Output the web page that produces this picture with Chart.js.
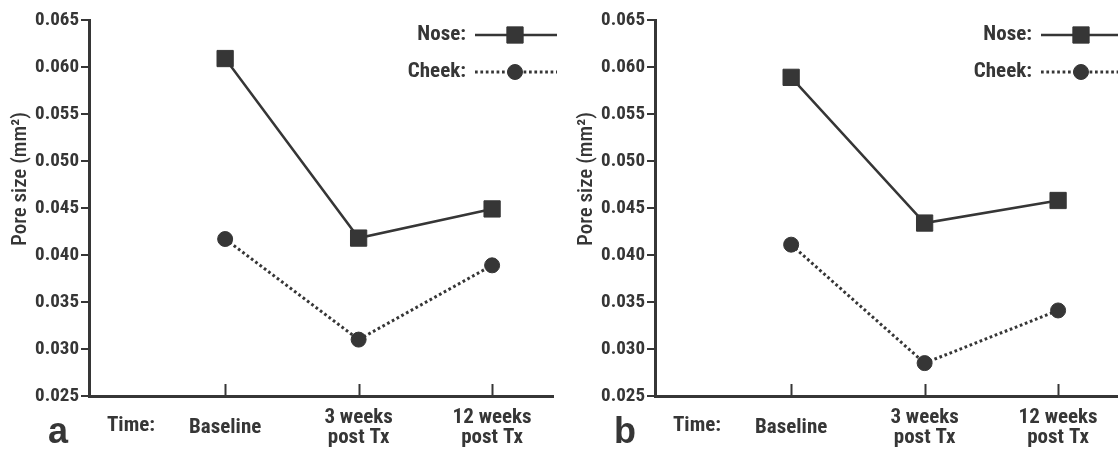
<!DOCTYPE html>
<html><head><meta charset="utf-8">
<script src="https://cdn.jsdelivr.net/npm/chart.js@4.4.1/dist/chart.umd.min.js"></script>
<style>
html,body{margin:0;padding:0;background:#fff;overflow:hidden;width:1118px;height:450px;}
.panel{position:absolute;top:0;width:566px;height:450px;}
</style></head><body>
<div class="panel" style="left:0"><canvas id="ca" width="566" height="450"></canvas></div>
<div class="panel" style="left:566px"><canvas id="cb" width="566" height="450"></canvas></div>
<script>
// ---- data ----
const timeCategories = ['Baseline', ['3 weeks', 'post Tx'], ['12 weeks', 'post Tx']];
const timePositions = [0, 1, 2];
const yTickValues = [0.025, 0.030, 0.035, 0.040, 0.045, 0.050, 0.055, 0.060, 0.065];
const seriesNames = ['Nose:', 'Cheek:'];
const noseA = [0.0609, 0.0418, 0.0449];
const cheekA = [0.0417, 0.0310, 0.0389];
const noseB = [0.0589, 0.0434, 0.0458];
const cheekB = [0.0411, 0.0285, 0.0341];
const panelLetters = ['a', 'b'];
const yTitle = 'Pore size (mm\u00B2)';
const timeLabel = 'Time:';

// ---- style ----
const INK = '#363636';
const NARROW = '"Roboto Condensed", "Open Sans Condensed", "Liberation Sans Narrow", sans-serif';

function pts(arr) { return arr.map((v, i) => ({ x: timePositions[i], y: v })); }

const decor = {
  id: 'decor',
  afterDraw(chart, args, opts) {
    const { ctx, chartArea, scales: { x } } = chart;
    ctx.save();
    // upward x tick marks
    ctx.strokeStyle = INK; ctx.lineWidth = 2;
    x.ticks.forEach(t => {
      const px = Math.round(x.getPixelForValue(t.value)) + 0.5;
      ctx.beginPath(); ctx.moveTo(px, chartArea.bottom); ctx.lineTo(px, chartArea.bottom - 12); ctx.stroke();
    });
    // y title
    ctx.save();
    ctx.translate(21, 179); ctx.rotate(-Math.PI / 2);
    ctx.fillStyle = INK; ctx.font = '500 21px ' + NARROW;
    ctx.textAlign = 'center'; ctx.textBaseline = 'middle';
    ctx.fillText(yTitle, 0, 0);
    ctx.restore();
    // Time:
    ctx.fillStyle = INK; ctx.font = 'bold 21px ' + NARROW;
    ctx.textAlign = 'center'; ctx.textBaseline = 'middle';
    ctx.fillText(timeLabel, 131, 426);
    // panel letter
    ctx.font = 'bold 36px "Liberation Sans", Arial, sans-serif';
    ctx.textAlign = 'left'; ctx.textBaseline = 'alphabetic';
    ctx.fillText(opts.letter, 48, 443);
    // legend
    const rows = [35, 72];
    chart.data.datasets.forEach((ds, i) => {
      const ly = rows[i];
      ctx.font = 'bold 21px ' + NARROW;
      ctx.textAlign = 'right'; ctx.textBaseline = 'middle';
      ctx.fillStyle = INK;
      ctx.fillText(seriesNames[i], 466, ly);
      ctx.save();
      ctx.strokeStyle = ds.borderColor; ctx.lineWidth = ds.borderWidth;
      ctx.setLineDash(ds.borderDash || []);
      ctx.beginPath(); ctx.moveTo(475, ly); ctx.lineTo(557, ly); ctx.stroke();
      ctx.restore();
      ctx.fillStyle = ds.pointBackgroundColor; ctx.strokeStyle = ds.borderColor;
      ctx.lineWidth = ds.pointBorderWidth;
      Chart.helpers.drawPoint(ctx, { pointStyle: ds.pointStyle, radius: ds.pointRadius, borderWidth: ds.pointBorderWidth, rotation: 0 }, 515, ly);
    });
    ctx.restore();
  }
};

function makeChart(id, nose, cheek, letter) {
  return new Chart(document.getElementById(id), {
    type: 'line',
    data: {
      datasets: [
        { label: 'Nose', data: pts(nose), borderColor: INK, backgroundColor: INK, borderWidth: 2.5,
          pointStyle: 'rect', pointRadius: 11.5, pointBorderWidth: 1, pointBackgroundColor: INK, pointBorderColor: INK, tension: 0 },
        { label: 'Cheek', data: pts(cheek), borderColor: INK, backgroundColor: INK, borderWidth: 3, borderDash: [2.7, 2.7],
          pointStyle: 'circle', pointRadius: 7.5, pointBorderWidth: 1, pointBackgroundColor: INK, pointBorderColor: INK, tension: 0 }
      ]
    },
    options: {
      responsive: false, animation: false,
      layout: { padding: { top: 20, right: 9, left: 0, bottom: 0 } },
      plugins: { legend: { display: false }, tooltip: { enabled: false }, decor: { letter } },
      scales: {
        x: {
          type: 'linear', min: -1.02, max: 2.46,
          afterBuildTicks: s => { s.ticks = timePositions.map(v => ({ value: v })); },
          afterFit: s => { s.height = 54; },
          grid: { display: true, drawOnChartArea: false, drawTicks: false },
          border: { display: true, color: INK, width: 3 },
          ticks: { color: INK, padding: 22, crossAlign: 'center', maxRotation: 0, autoSkip: false,
            font: { family: NARROW, size: 21, weight: 'bold', lineHeight: 0.95 },
            callback: v => timeCategories[timePositions.indexOf(v)] }
        },
        y: {
          min: 0.025, max: 0.065,
          afterBuildTicks: s => { s.ticks = yTickValues.map(v => ({ value: v })); },
          afterFit: s => { s.width = 89; },
          grid: { drawOnChartArea: false, drawTicks: true, tickLength: 8, color: INK, lineWidth: 2 },
          border: { display: true, color: INK, width: 3 },
          ticks: { color: INK, padding: 2, font: { family: NARROW, size: 19, weight: 'bold' },
            callback: v => v.toFixed(3) }
        }
      }
    },
    plugins: [decor]
  });
}

makeChart('ca', noseA, cheekA, panelLetters[0]);
makeChart('cb', noseB, cheekB, panelLetters[1]);
</script>
</body></html>
